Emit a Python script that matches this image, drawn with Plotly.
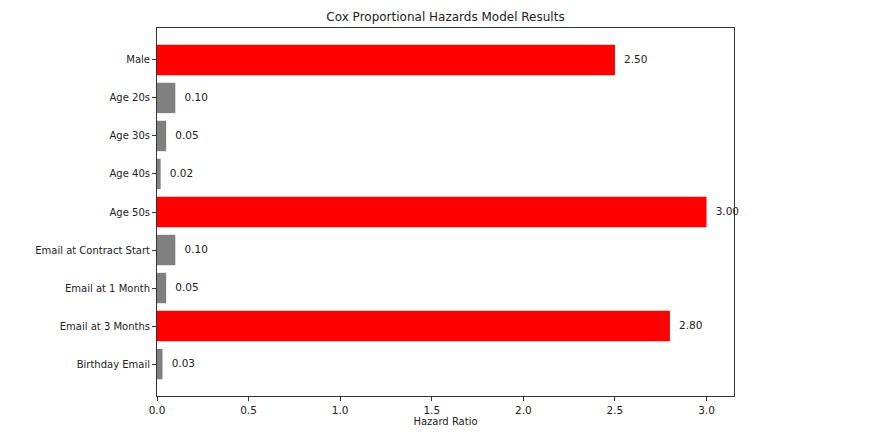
import plotly.graph_objects as go

categories = ["Male", "Age 20s", "Age 30s", "Age 40s", "Age 50s",
              "Email at Contract Start", "Email at 1 Month", "Email at 3 Months", "Birthday Email"]
hazard_ratios = [2.50, 0.10, 0.05, 0.02, 3.00, 0.10, 0.05, 2.80, 0.03]
x_ticks = [0.0, 0.5, 1.0, 1.5, 2.0, 2.5, 3.0]

colors = ["red" if v > 1 else "gray" for v in hazard_ratios]
pos = list(range(len(categories)))

font = "DejaVu Sans, sans-serif"
fig = go.Figure()
fig.add_trace(go.Bar(
    x=hazard_ratios, y=pos, orientation="h", width=0.8,
    marker=dict(color=colors, line=dict(width=0)),
    showlegend=False, hoverinfo="x+y",
))
fig.add_trace(go.Scatter(
    x=[v + 0.05 for v in hazard_ratios], y=pos, mode="text",
    text=[f"{v:.2f}" for v in hazard_ratios], textposition="middle right",
    textfont=dict(family=font, size=10.5, color="#222"),
    showlegend=False, hoverinfo="skip", cliponaxis=False,
))
fig.update_layout(
    width=878, height=432,
    margin=dict(l=157, r=144, t=28, b=36, autoexpand=False),
    paper_bgcolor="white", plot_bgcolor="white",
    font=dict(family=font, size=10, color="#222"),
    title=dict(text="Cox Proportional Hazards Model Results", x=(157 + 734) / 2 / 878,
               xanchor="center", y=1 - 17 / 432, yanchor="middle",
               font=dict(size=12, color="#222")),
)
fig.update_xaxes(
    range=[0, 3.15], tickvals=x_ticks, ticktext=[f"{t:.1f}" for t in x_ticks],
    ticks="outside", ticklen=4, tickcolor="#333", showgrid=False, zeroline=False,
    showline=True, linecolor="#333", linewidth=1, mirror=True, automargin=False,
    tickfont=dict(size=10.5),
    title=dict(text="Hazard Ratio", standoff=2, font=dict(size=10)),
)
fig.update_yaxes(
    range=[8.84, -0.84], tickvals=pos, ticktext=categories, automargin=False,
    ticks="outside", ticklen=4, tickcolor="#333", showgrid=False, zeroline=False,
    showline=True, linecolor="#333", linewidth=1, mirror=True,
    tickfont=dict(size=10),
)
fig.write_html("out.html", config={"displayModeBar": False},
               post_script="document.body.style.margin='0';document.body.style.overflow='hidden';")
